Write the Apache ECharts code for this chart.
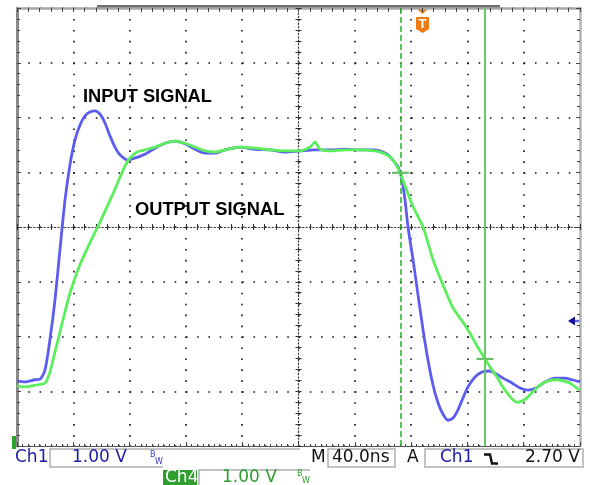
<!DOCTYPE html>
<html><head><meta charset="utf-8">
<script src="https://cdn.jsdelivr.net/npm/echarts@6/dist/echarts.min.js"></script>
<style>html,body{margin:0;padding:0;background:#fff}#c{width:590px;height:485px}</style>
</head><body><div id="c"></div>
<script>
// time in ns (40 ns/div, centre = 0), amplitude in divisions (1.00 V/div)
const inputSignal = [
 [-200,-2.81],[-194.5,-2.83],[-187.2,-2.79],[-183.7,-2.78],[-180.1,-2.61],[-176.6,-2.06],[-173.0,-1.33],[-169.5,-0.42],
 [-165.9,0.49],[-162.4,1.13],[-158.8,1.59],[-155.3,1.86],[-151.7,2.03],[-148.2,2.10],[-144.6,2.12],[-141.0,2.06],
 [-137.5,1.90],[-133.9,1.66],[-130.4,1.46],[-126.8,1.32],[-121.1,1.22],[-116.2,1.26],[-109.1,1.33],[-102.0,1.44],
 [-94.9,1.53],[-87.7,1.57],[-80.6,1.52],[-73.5,1.42],[-66.4,1.35],[-59.3,1.35],[-52.2,1.41],[-41.6,1.46],
 [-30.9,1.42],[-20.2,1.41],[-9.6,1.37],[1.1,1.39],[11.7,1.41],[22.4,1.41],[33.0,1.42],[43.7,1.41],
 [54.3,1.41],[60.0,1.37],[63.6,1.32],[67.1,1.22],[70.7,1.10],[73.5,0.86],[75.7,0.49],[77.8,0.00],
 [81.4,-0.60],[84.9,-1.24],[88.5,-1.88],[92.0,-2.43],[95.6,-2.89],[99.1,-3.21],[102.7,-3.42],[106.2,-3.53],
 [109.8,-3.49],[113.3,-3.34],[116.9,-3.12],[120.4,-2.92],[125.4,-2.74],[130.4,-2.65],[135.4,-2.63],[140.3,-2.68],
 [145.3,-2.76],[151.7,-2.85],[157.4,-2.94],[163.1,-2.98],[168.7,-2.94],[175.1,-2.83],[182.2,-2.76],[189.3,-2.76],
 [194.3,-2.79],[200,-2.83]
];
const outputSignal = [
 [-200,-2.90],[-194.5,-2.92],[-187.2,-2.89],[-180.1,-2.85],[-176.6,-2.65],[-173.0,-2.28],[-169.5,-1.92],[-165.9,-1.55],
 [-162.4,-1.21],[-155.3,-0.69],[-148.2,-0.29],[-141.0,0.09],[-133.9,0.49],[-130.4,0.69],[-126.8,0.91],[-123.3,1.11],
 [-119.7,1.26],[-114.7,1.37],[-109.1,1.41],[-102.0,1.46],[-94.9,1.53],[-87.7,1.57],[-80.6,1.53],[-73.5,1.46],
 [-66.4,1.39],[-59.3,1.37],[-52.2,1.41],[-41.6,1.46],[-30.9,1.44],[-20.2,1.41],[-9.6,1.39],[1.1,1.39],
 [8.2,1.46],[11.7,1.55],[15.3,1.42],[22.4,1.39],[33.0,1.41],[43.7,1.41],[54.3,1.39],[60.0,1.35],
 [65.0,1.28],[68.6,1.17],[72.1,0.99],[75.7,0.75],[81.4,0.37],[88.5,0.00],[95.6,-0.60],[102.7,-1.06],
 [109.8,-1.48],[116.9,-1.74],[121.8,-1.94],[126.8,-2.17],[132.5,-2.41],[137.5,-2.61],[141.0,-2.74],[144.6,-2.90],
 [148.2,-3.03],[151.7,-3.14],[155.3,-3.20],[158.8,-3.18],[162.4,-3.12],[166.6,-3.01],[171.6,-2.89],[177.3,-2.81],
 [183.7,-2.79],[187.9,-2.81],[192.9,-2.85],[196.5,-2.92],[200,-2.98]
];
const xRange = [-200, 200];   // ns
const xInterval = 40;         // ns/div
const yRange = [-4, 4];       // div
const yInterval = 1;
const cursorTimes = [72.4, 132.5];
const cursorLevels = [0.99, -2.41];
const statusTexts = {ch1:'Ch1', ch1Scale:'1.00 V', ch4:'Ch4', ch4Scale:'1.00 V', m:'M', timebase:'40.0ns', a:'A', trigSrc:'Ch1', trigLevel:'2.70 V'};

const SF = '"DejaVu Sans", sans-serif';
const BOLD = 'bold 18.3px "Liberation Sans", Arial, sans-serif';
const BLUE_TXT = '#1b1ba6';

function xAx(pos, o) {
  return Object.assign({type:'value', min:xRange[0], max:xRange[1], interval:xInterval, position:pos,
    axisLabel:{show:false}, splitLine:{show:false}}, o);
}
function yAx(pos, o) {
  return Object.assign({type:'value', min:yRange[0], max:yRange[1], interval:yInterval, position:pos,
    axisLabel:{show:false}, splitLine:{show:false}}, o);
}
const tk = (inside, len, c) => ({show:true, inside:inside, length:len, lineStyle:{color:c||'#444', width:1}});
const mtk = (n, len, c) => ({show:true, splitNumber:n, length:len, lineStyle:{color:c||'#444', width:1}});

const chart = echarts.init(document.getElementById('c'), null, {renderer:'canvas'});
chart.setOption({
  animation:false,
  backgroundColor:'#ffffff',
  grid:{left:17, top:8, width:563, height:438, containLabel:false},
  xAxis:[
    xAx('bottom', {axisLine:{show:true,onZero:false,lineStyle:{color:'#555',width:1}}, axisTick:tk(true,4), minorTick:mtk(10,2),
      splitLine:{show:true, lineStyle:{color:'#111', width:1.6, type:[1.6,9.35]}}}),
    xAx('top', {axisLine:{show:true,onZero:false,lineStyle:{color:'#a8a8a8',width:2.5}}, axisTick:tk(true,4), minorTick:mtk(5,4)}),
    xAx('bottom', {axisLine:{show:true,onZero:true,onZeroAxisIndex:0,lineStyle:{color:'#333',width:1.2,type:[1.2,2.2]}}, axisTick:tk(true,3,'#333'), minorTick:mtk(5,3,'#333')}),
    xAx('bottom', {axisLine:{show:false,onZero:true,onZeroAxisIndex:0}, axisTick:tk(false,3,'#333'), minorTick:mtk(5,3,'#333')})
  ],
  yAxis:[
    yAx('left', {axisLine:{show:true,onZero:false,lineStyle:{color:'#888',width:3}}, axisTick:tk(true,4), minorTick:mtk(5,3),
      splitLine:{show:true, lineStyle:{color:'#111', width:1.6, type:[1.6,9.66]}}}),
    yAx('right', {axisLine:{show:true,onZero:false,lineStyle:{color:'#b4b4b4',width:2.5}}, axisTick:tk(true,4), minorTick:mtk(5,3)}),
    yAx('left', {axisLine:{show:true,onZero:true,onZeroAxisIndex:0,lineStyle:{color:'#333',width:1.2,type:[1.2,2.2]}}, axisTick:tk(true,3,'#333'), minorTick:mtk(5,3,'#333')}),
    yAx('left', {axisLine:{show:false,onZero:true,onZeroAxisIndex:0}, axisTick:tk(false,3,'#333'), minorTick:mtk(5,3,'#333')})
  ],
  series:[
    {type:'line', name:'INPUT SIGNAL', data:inputSignal, xAxisIndex:0, yAxisIndex:0, showSymbol:false, smooth:0.25,
      lineStyle:{color:'#5c5cf0', width:2.8}, z:3},
    {type:'line', name:'OUTPUT SIGNAL', data:outputSignal, xAxisIndex:0, yAxisIndex:0, showSymbol:false, smooth:0.25,
      lineStyle:{color:'#5cee5c', width:2.8}, z:4,
      markLine:{silent:true, symbol:['none','none'], label:{show:false},
        data:[{xAxis:cursorTimes[0], lineStyle:{type:[6,3], color:'#22b822', width:1.5}},
              {xAxis:cursorTimes[1], lineStyle:{type:'solid', color:'#6cc86c', width:2}}]},
      markPoint:{silent:true, symbol:'rect', symbolSize:[17,2.2], label:{show:false}, itemStyle:{color:'#66c066'},
        data:[{coord:[cursorTimes[0], cursorLevels[0]]},{coord:[cursorTimes[1], cursorLevels[1]]}]}
    }
  ],
  graphic:[
    {type:'text', x:83, y:96.5, style:{text:'INPUT SIGNAL', font:BOLD, fill:'#000', verticalAlign:'middle'}},
    {type:'text', x:135, y:209.5, style:{text:'OUTPUT SIGNAL', font:BOLD, fill:'#000', verticalAlign:'middle'}},
    {type:'rect', shape:{x:97, y:5, width:403, height:3}, style:{fill:'#707070'}},
    {type:'polygon', shape:{points:[[416,8],[429,8],[422.5,14]]}, style:{fill:'#f07a12'}},
    {type:'polygon', shape:{points:[[416,17],[429,17],[429,29],[422.5,33],[416,29]]}, style:{fill:'#f07a12'}},
    {type:'text', x:422.5, y:24.5, style:{text:'T', font:'bold 13px "Liberation Sans", Arial', fill:'#fff', align:'center', verticalAlign:'middle'}},
    {type:'polygon', shape:{points:[[568,321],[575,316.5],[575,325.5]]}, style:{fill:'#12129a'}},
    {type:'rect', shape:{x:575, y:319.8, width:5, height:2.5}, style:{fill:'#6a6ae0'}},
    {type:'rect', shape:{x:12, y:436, width:4, height:13}, style:{fill:'#2ea42e'}},
    {type:'polyline', shape:{points:[[163,467],[50,467],[50,449],[300,449]]}, style:{stroke:'#b0b0b0', lineWidth:1.5, fill:null}},
    {type:'rect', shape:{x:328, y:449, width:67, height:18}, style:{stroke:'#b0b0b0', lineWidth:1.5, fill:null}},
    {type:'rect', shape:{x:425, y:449, width:158, height:18}, style:{stroke:'#b0b0b0', lineWidth:1.5, fill:null}},
    {type:'polyline', shape:{points:[[199,486],[199,470],[310,470]]}, style:{stroke:'#b0b0b0', lineWidth:1.5, fill:null}},
    {type:'rect', shape:{x:163, y:470, width:34, height:16}, style:{fill:'#2f9e2f'}},
    {type:'text', x:15, y:457.5, style:{text:statusTexts.ch1, font:'17px '+SF, fill:BLUE_TXT, verticalAlign:'middle'}},
    {type:'text', x:72, y:457.5, style:{text:statusTexts.ch1Scale, font:'17px '+SF, fill:BLUE_TXT, verticalAlign:'middle'}},
    {type:'text', x:150, y:455, style:{text:'B', font:'8px '+SF, fill:'#3535c0', verticalAlign:'middle'}},
    {type:'text', x:155, y:462, style:{text:'W', font:'8px '+SF, fill:'#3535c0', verticalAlign:'middle'}},
    {type:'text', x:165, y:477.5, style:{text:statusTexts.ch4, font:'17px '+SF, fill:'#fff', verticalAlign:'middle'}},
    {type:'text', x:222, y:477.5, style:{text:statusTexts.ch4Scale, font:'17px '+SF, fill:'#2f9e2f', verticalAlign:'middle'}},
    {type:'text', x:297, y:474, style:{text:'B', font:'8px '+SF, fill:'#2f9e2f', verticalAlign:'middle'}},
    {type:'text', x:302, y:481, style:{text:'W', font:'8px '+SF, fill:'#2f9e2f', verticalAlign:'middle'}},
    {type:'text', x:311, y:457.5, style:{text:statusTexts.m, font:'17px '+SF, fill:'#111', verticalAlign:'middle'}},
    {type:'text', x:332, y:457.5, style:{text:statusTexts.timebase, font:'17px '+SF, fill:'#111', verticalAlign:'middle'}},
    {type:'text', x:407, y:457.5, style:{text:statusTexts.a, font:'17px '+SF, fill:'#111', verticalAlign:'middle'}},
    {type:'text', x:440, y:457.5, style:{text:statusTexts.trigSrc, font:'17px '+SF, fill:BLUE_TXT, verticalAlign:'middle'}},
    {type:'polyline', shape:{points:[[484,454.5],[490,454.5],[492,463.5],[498,463.5]]}, style:{stroke:'#111', lineWidth:2.4, fill:null}},
    {type:'text', x:525, y:457.5, style:{text:statusTexts.trigLevel, font:'17px '+SF, fill:'#111', verticalAlign:'middle'}}
  ]
});
</script></body></html>
